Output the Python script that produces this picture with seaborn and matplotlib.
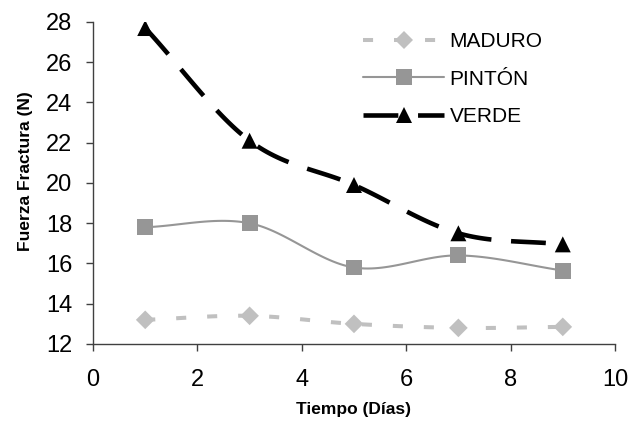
import numpy as np
import pandas as pd
import matplotlib
matplotlib.use("Agg")
import matplotlib.pyplot as plt
import seaborn as sns

dias = [1, 3, 5, 7, 9]
maduro = [13.2, 13.4, 13.0, 12.8, 12.85]
pinton = [17.8, 18.0, 15.8, 16.4, 15.65]
verde = [27.7, 22.1, 19.9, 17.5, 16.95]
series_names = ["MADURO", "PINTÓN", "VERDE"]
x_ticks = [0, 2, 4, 6, 8, 10]
y_ticks = [12, 14, 16, 18, 20, 22, 24, 26, 28]

sns.set_theme(style="white")
plt.rcParams['font.family'] = ['Liberation Sans', 'DejaVu Sans']
plt.rcParams['text.color'] = 'black'
plt.rcParams['axes.labelcolor'] = 'black'
plt.rcParams['xtick.color'] = 'black'
plt.rcParams['ytick.color'] = 'black'


def smooth(x, y, n=30):
    # Catmull-Rom style smoothing (like spreadsheet smoothed lines) for drawing only
    x = np.asarray(x, float); y = np.asarray(y, float)
    px = np.concatenate([[2 * x[0] - x[1]], x, [2 * x[-1] - x[-2]]])
    py = np.concatenate([[2 * y[0] - y[1]], y, [2 * y[-1] - y[-2]]])
    xs, ys = [], []
    for i in range(1, len(px) - 2):
        t = np.linspace(0, 1, n, endpoint=(i == len(px) - 3))
        for arr, out in ((px, xs), (py, ys)):
            p0, p1, p2, p3 = arr[i - 1], arr[i], arr[i + 1], arr[i + 2]
            out.extend(0.5 * ((2 * p1) + (-p0 + p2) * t + (2 * p0 - 5 * p1 + 4 * p2 - p3) * t ** 2
                              + (-p0 + 3 * p1 - 3 * p2 + p3) * t ** 3))
    return np.array(xs), np.array(ys)


fig = plt.figure(figsize=(6.31, 4.23), dpi=100)
ax = fig.add_axes([0.1474, 0.1868, 0.8272, 0.7612])

styles = {
    "MADURO": dict(color="#c0c0c0", lw=2.9, dashes=(2.5, 5.2), marker="D", ms=9.5),
    "PINTÓN": dict(color="#969696", lw=1.5, dashes=None, marker="s", ms=11.5),
    "VERDE": dict(color="#000000", lw=3.3, dashes=(7.6, 4.3), marker="^", ms=11.5),
}
data = {"MADURO": maduro, "PINTÓN": pinton, "VERDE": verde}

handles = []
for name in series_names:
    st = styles[name]
    sx, sy = smooth(dias, data[name])
    df = pd.DataFrame({"x": sx, "y": sy})
    sns.lineplot(data=df, x="x", y="y", ax=ax, color=st["color"], lw=st["lw"],
                 sort=False, estimator=None)
    line = ax.lines[-1]
    if st["dashes"]:
        line.set_dashes(st["dashes"])
    line.set_dash_capstyle("butt")
    dp = pd.DataFrame({"x": dias, "y": data[name]})
    sns.scatterplot(data=dp, x="x", y="y", ax=ax, color=st["color"], marker=st["marker"],
                    s=st["ms"] ** 2, edgecolor="none", linewidth=0, zorder=5)
    h = matplotlib.lines.Line2D([], [], color=st["color"], lw=st["lw"], marker=st["marker"],
                                markersize=st["ms"], markeredgewidth=0)
    if st["dashes"]:
        h.set_dashes(st["dashes"])
    handles.append(h)

ax.set_xlim(0, 10)
ax.set_ylim(12, 28)
ax.set_xticks(x_ticks)
ax.set_yticks(y_ticks)
ax.tick_params(axis="both", labelsize=17, direction="out", length=5, width=1, color="#404040",
               left=True, bottom=True)
ax.tick_params(axis="x", pad=13)
ax.tick_params(axis="y", pad=10)
for s in ["top", "right"]:
    ax.spines[s].set_visible(False)
for s in ["left", "bottom"]:
    ax.spines[s].set_color("#404040")
    ax.spines[s].set_linewidth(1.0)
ax.set_xlabel("Tiempo (Días)", fontsize=12.5, fontweight="bold", labelpad=8)
ax.set_ylabel("Fuerza Fractura (N)", fontsize=12.5, fontweight="bold", labelpad=9)
ax.yaxis.label.set_y(0.537)

leg = ax.legend(handles, series_names, loc="upper left", bbox_to_anchor=(363 / 631, 1 - 32 / 423),
                bbox_transform=fig.transFigure, frameon=False, borderpad=0, borderaxespad=0,
                fontsize=15, handlelength=3.9, handletextpad=0.25, labelspacing=0.9)

fig.savefig("out.png", dpi=100)
